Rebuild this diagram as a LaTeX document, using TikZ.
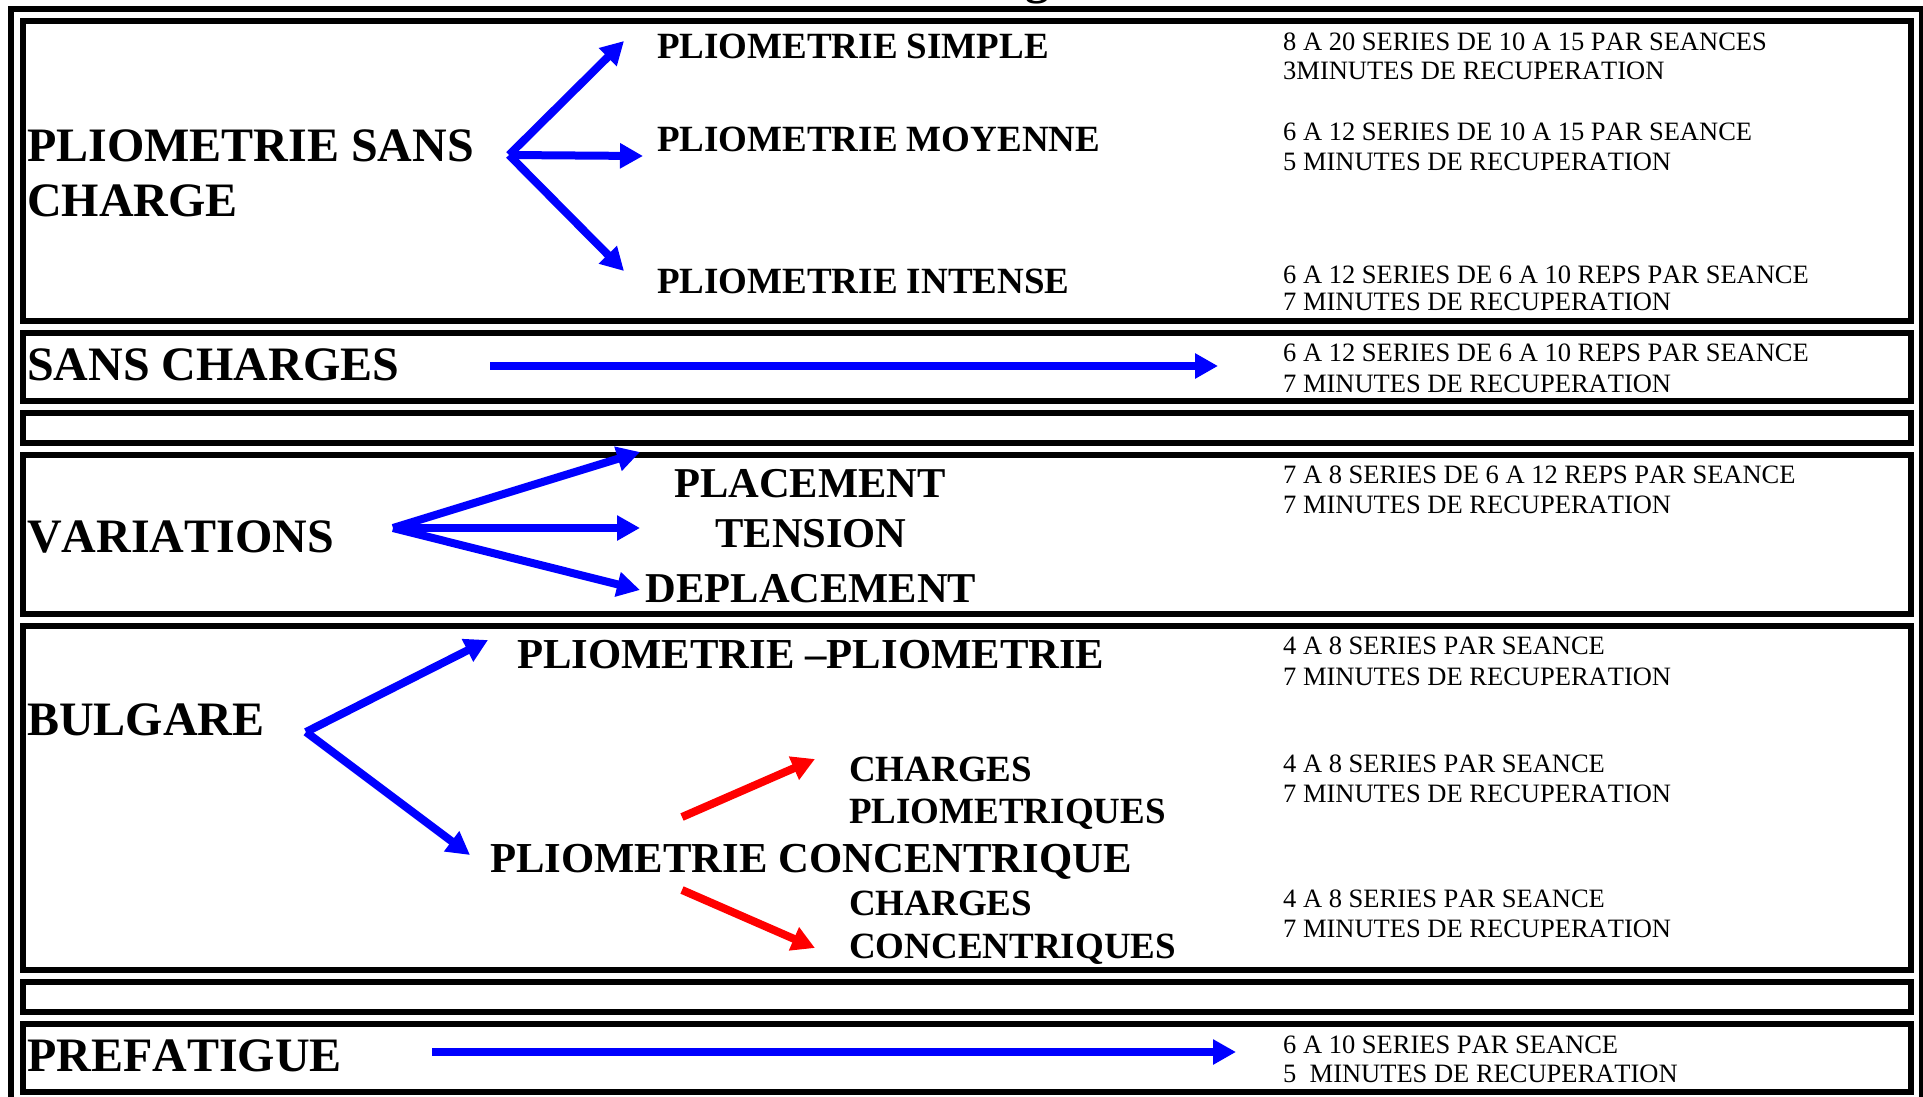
\documentclass[tikz,border=0pt]{standalone}
\usepackage{fontspec}
\setmainfont{Liberation Serif}[Kerning=Off]
\usetikzlibrary{arrows.meta}
\tikzset{
  frame/.style={line width=6pt},
  big/.style={font=\fontsize{48}{55}\selectfont\bfseries, inner sep=0pt, anchor=base west},
  mid/.style={font=\fontsize{37}{42}\selectfont\bfseries, inner sep=0pt, anchor=base west},
  midl/.style={font=\fontsize{42.7}{48}\selectfont\bfseries, inner sep=0pt, anchor=base west},
  midc/.style={font=\fontsize{42.5}{48}\selectfont\bfseries, inner sep=0pt, anchor=base},
  small/.style={font=\fontsize{26.5}{30}\selectfont, inner sep=0pt, anchor=base west},
  barrow/.style={draw=blue, line width=8pt, -{Triangle[length=23pt,width=24pt]}},
  rarrow/.style={draw=red, line width=8pt, -{Triangle[length=23pt,width=24pt]}},
}
\begin{document}
\begin{tikzpicture}[x=1pt,y=-1pt]
\useasboundingbox (0,0) rectangle (1923,1096);
\clip (0,0) rectangle (1923,1096);
% remnant of the title above the picture
\node[font=\fontsize{48}{55}\selectfont\bfseries, inner sep=0pt, anchor=south] (title) at (1037,4) {g};
% outer frame
\draw[frame] (11,9) rectangle (1922,1110);
% inner boxes
\draw[frame] (23,21) rectangle (1911,321);
\draw[frame] (23,333) rectangle (1911,401);
\draw[frame] (23,413) rectangle (1911,443);
\draw[frame] (23,455) rectangle (1911,614);
\draw[frame] (23,626) rectangle (1911,970);
\draw[frame] (23,982) rectangle (1911,1012);
\draw[frame] (23,1024) rectangle (1911,1092);

% ---- box 1
\node[big] (psc1) at (27,161) {PLIOMETRIE SANS};
\node[big] (psc2) at (27,216) {CHARGE};
\node[mid] (psimple) at (657,58) {PLIOMETRIE SIMPLE};
\node[mid] (pmoy) at (657,151) {PLIOMETRIE MOYENNE};
\node[mid] (pint) at (657,293) {PLIOMETRIE INTENSE};
\node[small] (t1a) at (1283,50) {8 A 20 SERIES DE 10 A 15 PAR SEANCES};
\node[small] (t1b) at (1283,79) {3MINUTES DE RECUPERATION};
\node[small] (t2a) at (1283,140) {6 A 12 SERIES DE 10 A 15 PAR SEANCE};
\node[small] (t2b) at (1283,170) {5 MINUTES DE RECUPERATION};
\node[small] (t3a) at (1283,283) {6 A 12 SERIES DE 6 A 10 REPS PAR SEANCE};
\node[small] (t3b) at (1283,310) {7 MINUTES DE RECUPERATION};
\coordinate (f1) at (509,155);
\coordinate (f1a) at (624,41);
\coordinate (f1b) at (643,156);
\coordinate (f1c) at (624,271);
\draw[barrow] (f1) -- (f1a);
\draw[barrow] (f1) -- (f1b);
\draw[barrow] (f1) -- (f1c);

% ---- box 2
\node[big] (sc) at (27,380) {SANS CHARGES};
\node[small] (t4a) at (1283,361) {6 A 12 SERIES DE 6 A 10 REPS PAR SEANCE};
\node[small] (t4b) at (1283,392) {7 MINUTES DE RECUPERATION};
\coordinate (f2) at (490,366);
\coordinate (f2a) at (1218,366);
\draw[barrow] (f2) -- (f2a);

% ---- box 4
\node[big] (var) at (27,552) {VARIATIONS};
\node[midc] (plac) at (810,497) {PLACEMENT};
\node[midc] (tens) at (811,547) {TENSION};
\node[midc] (depl) at (811,602) {DEPLACEMENT};
\node[small] (t5a) at (1283,483) {7 A 8 SERIES DE 6 A 12 REPS PAR SEANCE};
\node[small] (t5b) at (1283,513) {7 MINUTES DE RECUPERATION};
\coordinate (f4) at (393,528);
\coordinate (f4a) at (640,452);
\coordinate (f4b) at (640,528);
\coordinate (f4c) at (640,590);
\draw[barrow] (f4) -- (f4a);
\draw[barrow] (f4) -- (f4b);
\draw[barrow] (f4) -- (f4c);

% ---- box 5
\node[big] (bul) at (27,735) {BULGARE};
\node[midl] (pp) at (517,668) {PLIOMETRIE –PLIOMETRIE};
\node[midl] (pc) at (490,872) {PLIOMETRIE CONCENTRIQUE};
\node[mid] (cp1) at (849,781) {CHARGES};
\node[mid] (cp2) at (849,823) {PLIOMETRIQUES};
\node[mid] (cc1) at (849,915) {CHARGES};
\node[mid] (cc2) at (849,958) {CONCENTRIQUES};
\node[small] (t6a) at (1283,654) {4 A 8 SERIES PAR SEANCE};
\node[small] (t6b) at (1283,685) {7 MINUTES DE RECUPERATION};
\node[small] (t7a) at (1283,772) {4 A 8 SERIES PAR SEANCE};
\node[small] (t7b) at (1283,802) {7 MINUTES DE RECUPERATION};
\node[small] (t8a) at (1283,907) {4 A 8 SERIES PAR SEANCE};
\node[small] (t8b) at (1283,937) {7 MINUTES DE RECUPERATION};
\coordinate (f5) at (306,732);
\coordinate (f5a) at (488,640);
\coordinate (f5b) at (470,855);
\draw[barrow] (f5) -- (f5a);
\draw[barrow] (f5) -- (f5b);
\coordinate (r1s) at (682,817);
\coordinate (r1e) at (815,759);
\coordinate (r2s) at (682,890);
\coordinate (r2e) at (815,948);
\draw[rarrow] (r1s) -- (r1e);
\draw[rarrow] (r2s) -- (r2e);

% ---- box 7
\node[big] (pre) at (27,1071) {PREFATIGUE};
\node[small] (t9a) at (1283,1053) {6 A 10 SERIES PAR SEANCE};
\node[small] (t9b) at (1283,1082) {5\ \ MINUTES DE RECUPERATION};
\coordinate (f7) at (432,1052);
\coordinate (f7a) at (1236,1052);
\draw[barrow] (f7) -- (f7a);
\end{tikzpicture}
\end{document}
